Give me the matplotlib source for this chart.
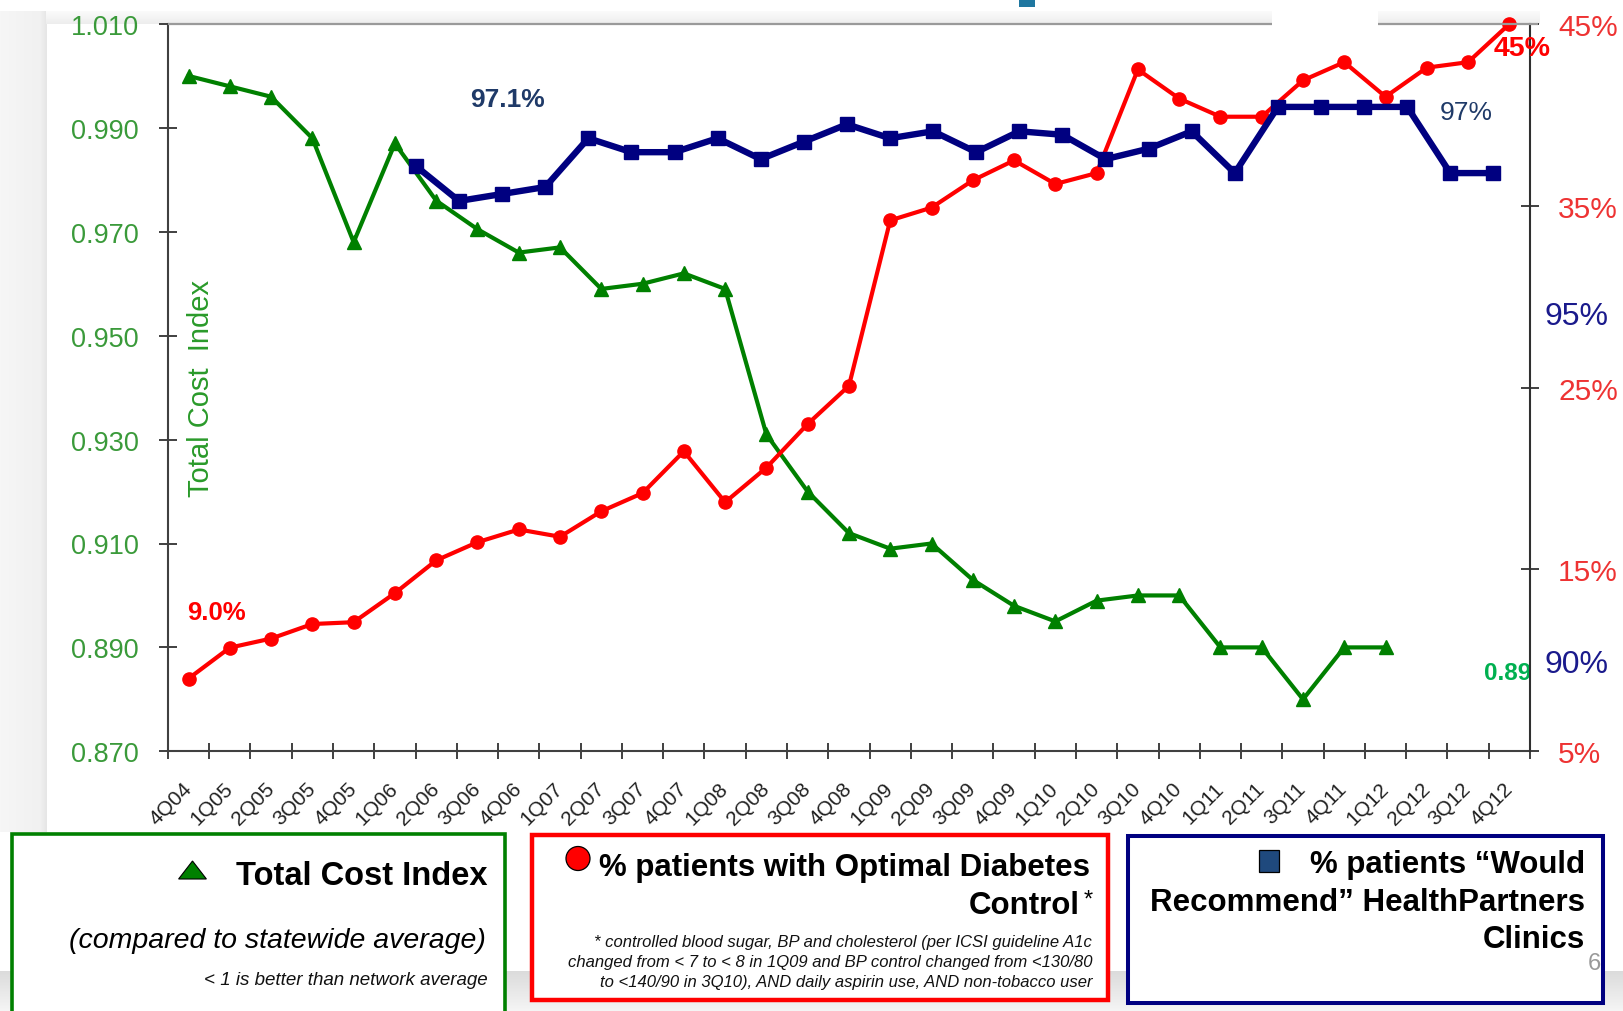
import numpy as np
import matplotlib
matplotlib.use("Agg")
import matplotlib.pyplot as plt
from matplotlib.patches import Rectangle, Circle, Polygon
from matplotlib.ticker import FormatStrFormatter

# ---------------------------------------------------------------- data
quarters = ["4Q04", "1Q05", "2Q05", "3Q05", "4Q05", "1Q06", "2Q06", "3Q06",
            "4Q06", "1Q07", "2Q07", "3Q07", "4Q07", "1Q08", "2Q08", "3Q08",
            "4Q08", "1Q09", "2Q09", "3Q09", "4Q09", "1Q10", "2Q10", "3Q10",
            "4Q10", "1Q11", "2Q11", "3Q11", "4Q11", "1Q12", "2Q12", "3Q12",
            "4Q12"]

# Total Cost Index (compared to statewide average), 4Q04 - 1Q12
cost_index = [1.000, 0.998, 0.996, 0.988, 0.968, 0.987, 0.976, 0.9705, 0.966, 0.967,
              0.959, 0.960, 0.962, 0.959, 0.931, 0.920, 0.912, 0.909, 0.910, 0.903,
              0.898, 0.895, 0.899, 0.900, 0.900, 0.890, 0.890, 0.880, 0.890, 0.890]

# % patients with optimal diabetes control, 4Q04 - 4Q12
diabetes_pct = [9.0, 10.7, 11.2, 12.0, 12.1, 13.7, 15.5, 16.5, 17.2, 16.8,
                18.2, 19.2, 21.5, 18.7, 20.6, 23.0, 25.1, 34.2, 34.9, 36.4,
                37.5, 36.2, 36.8, 42.5, 40.9, 39.9, 39.9, 41.9, 42.9, 41.0,
                42.6, 42.9, 45.0]

# % patients who would recommend the clinics (own quarterly series)
recommend_pct = [97.1, 96.6, 96.7, 96.8, 97.5, 97.3, 97.3, 97.5, 97.2, 97.45,
                 97.7, 97.5, 97.6, 97.3, 97.6, 97.55, 97.2, 97.35, 97.6, 97.0,
                 97.95, 97.95, 97.95, 97.95, 97.0, 97.0]

cost_ticks = [0.870, 0.890, 0.910, 0.930, 0.950, 0.970, 0.990, 1.010]
diabetes_ticks = [5, 15, 25, 35, 45]
recommend_ticks = [90, 95]

# ---------------------------------------------------------------- figure
W, H, DPI = 1623, 1012, 100
plt.rcParams['font.family'] = ['Liberation Sans', 'DejaVu Sans']

fig = plt.figure(figsize=(W / DPI, H / DPI), dpi=DPI)
fig.patch.set_facecolor('white')

# background layer in pixel coordinates
bg = fig.add_axes([0, 0, 1, 1], zorder=-10)
bg.set_xlim(0, W)
bg.set_ylim(H, 0)
bg.axis('off')


def hgrad(x0, x1, y0, y1, v0, v1, ax=bg):
    g = np.linspace(v0, v1, 64)[None, :, None].repeat(3, axis=2)
    ax.imshow(g, extent=(x0, x1, y1, y0), aspect='auto',
              interpolation='bilinear', vmin=0, vmax=1, zorder=0)


def vgrad(x0, x1, y0, y1, v0, v1, ax=bg):
    g = np.linspace(v0, v1, 64)[:, None, None].repeat(3, axis=2)
    ax.imshow(g, extent=(x0, x1, y1, y0), aspect='auto',
              interpolation='bilinear', vmin=0, vmax=1, zorder=0)


hgrad(0, 40, 12, 833, 0.965, 0.945)
hgrad(40, 47, 12, 833, 0.945, 0.90)
vgrad(46, 1272, 12, 25, 0.985, 0.93)
vgrad(1378, 1540, 12, 25, 0.985, 0.93)
vgrad(0, W, 972, H, 0.86, 0.96)
bg.add_patch(Rectangle((1019, 0), 16, 8, facecolor='#1f77a0', edgecolor='none'))
bg.set_xlim(0, W)
bg.set_ylim(H, 0)

# plot area
x0p, x1p, y0p, y1p = 167.9, 1530.0, 25.0, 752.3
rect = [x0p / W, 1 - y1p / H, (x1p - x0p) / W, (y1p - y0p) / H]

GREEN, RED, NAVY = '#008000', '#ff0000', '#000080'
AXC = '#404040'

ax = fig.add_axes(rect)
ax.patch.set_alpha(0)
xi = np.arange(len(quarters))
ax.set_xlim(-0.5, len(quarters) - 0.5)
ax.set_ylim(0.870, 1.010)
ax.plot(np.arange(len(cost_index)), cost_index, color=GREEN, lw=3.0,
        marker='^', ms=10, mfc=GREEN, mec=GREEN, zorder=3, clip_on=False)

ax.set_yticks(cost_ticks)
ax.yaxis.set_major_formatter(FormatStrFormatter('%.3f'))
ax.tick_params(axis='y', direction='inout', length=13, width=1.4, color=AXC,
               labelsize=19.5, labelcolor='#3a9a3a', pad=14.4)

ax.set_xticks(xi)
ax.set_xticklabels(quarters, rotation=45, ha='right', va='center',
                   rotation_mode='anchor', fontsize=15, color='#222222')
ax.set_xticks(np.arange(len(quarters) + 1) - 0.5, minor=True)
ax.tick_params(axis='x', which='major', length=0, pad=24.5)
ax.tick_params(axis='x', which='minor', direction='inout', length=11,
               width=1.4, color=AXC)

for s in ('top', 'right'):
    ax.spines[s].set_visible(False)
for s in ('left', 'bottom'):
    ax.spines[s].set_color(AXC)
    ax.spines[s].set_linewidth(1.5)

ax.annotate('0.89', xy=(len(cost_index) - 1, cost_index[-1]),
            xytext=(122, -32), textcoords='offset pixels', ha='center',
            va='baseline', fontsize=17.5, color='#00b050', fontweight='bold',
            annotation_clip=False)

# diabetes control on the right-hand axis
axr = ax.twinx()
axr.set_ylim(5, 45)
axr.plot(xi[:len(diabetes_pct)], diabetes_pct, color=RED, lw=3.0, marker='o',
         ms=9.5, mfc=RED, mec=RED, zorder=3, clip_on=False)
axr.set_yticks(diabetes_ticks)
axr.set_yticklabels([f'{v}%' for v in diabetes_ticks])
axr.tick_params(axis='y', direction='inout', length=13, width=1.4, color=AXC,
                labelsize=21.5, labelcolor='#ee3333', pad=13.7)
for s in ('top', 'left', 'bottom'):
    axr.spines[s].set_visible(False)
axr.spines['right'].set_color('#303030')
axr.spines['right'].set_linewidth(1.5)

axr.annotate('9.0%', xy=(0, diabetes_pct[0]), xytext=(28, 60),
             textcoords='offset pixels', ha='center', va='baseline',
             fontsize=18.5, color=RED, fontweight='bold', annotation_clip=False)
axr.annotate('45%', xy=(len(diabetes_pct) - 1, diabetes_pct[-1]),
             xytext=(13, -31), textcoords='offset pixels', ha='center',
             va='baseline', fontsize=20.5, color=RED, fontweight='bold',
             annotation_clip=False)

# "would recommend" series on its own overlaid axes
axb = fig.add_axes(rect, frameon=False)
bi = np.arange(len(recommend_pct))
axb.set_xlim(-5.755, 25.85)
axb.set_ylim(88.70, 99.14)
axb.plot(bi, recommend_pct, color=NAVY, lw=4.6, marker='s', ms=10,
         mfc=NAVY, mec=NAVY, zorder=4, clip_on=False)
axb.xaxis.set_visible(False)
axb.yaxis.tick_right()
axb.set_yticks(recommend_ticks)
axb.set_yticklabels([f'{v}%' for v in recommend_ticks])
axb.tick_params(axis='y', length=0, pad=10.8, labelsize=23,
                labelcolor='#1a1a8c')

axb.annotate('97.1%', xy=(0, recommend_pct[0]), xytext=(92, 60),
             textcoords='offset pixels', ha='center', va='baseline',
             fontsize=19, color='#1f3a68', fontweight='bold',
             annotation_clip=False)
axb.annotate('97%', xy=(len(recommend_pct) - 1, recommend_pct[-1]),
             xytext=(-27, 54), textcoords='offset pixels', ha='center',
             va='baseline', fontsize=19, color='#1f3a68',
             annotation_clip=False)

# ---------------------------------------------------------------- overlay
ov = fig.add_axes([0, 0, 1, 1], zorder=10)
ov.set_xlim(0, W)
ov.set_ylim(H, 0)
ov.axis('off')
ov.patch.set_alpha(0)

# top frame line with a gap
ov.plot([168, 1272], [25, 25], color='#9a9a9a', lw=1.6, solid_capstyle='butt')
ov.plot([1378, 1538], [25, 25], color='#9a9a9a', lw=1.6, solid_capstyle='butt')

fig.text(201 / W, 1 - 388 / H, 'Total Cost  Index', rotation=90, ha='center',
         va='center', fontsize=21, color='#2a9a2a')

# legend boxes
ov.add_patch(Rectangle((12, 835), 493, 200, facecolor='white',
                       edgecolor=GREEN, lw=2.6))
ov.add_patch(Rectangle((532, 836), 576, 165, facecolor='white',
                       edgecolor=RED, lw=3.2))
ov.add_patch(Rectangle((1127.5, 836.5), 475, 167.5, facecolor='white',
                       edgecolor=NAVY, lw=2.9))

ov.add_patch(Polygon([(178.6, 880), (206.4, 880), (192.5, 862)], closed=True,
                     facecolor=GREEN, edgecolor='black', lw=0.8))
ov.add_patch(Circle((578, 859.5), 12, facecolor=RED, edgecolor='black', lw=0.9))
ov.add_patch(Rectangle((1259, 851), 20, 22, facecolor='#1f497d',
                       edgecolor='black', lw=0.9))

ov.text(487.5, 885, 'Total Cost Index', ha='right', va='baseline',
        fontsize=23.5, fontweight='bold', color='black')
ov.text(486, 948, '(compared to statewide average)', ha='right',
        va='baseline', fontsize=20.5, style='italic', color='black')
ov.text(487.5, 985, '< 1 is better than network average', ha='right',
        va='baseline', fontsize=13.5, style='italic', color='#111111')

ov.text(1090, 876, '% patients with Optimal Diabetes', ha='right',
        va='baseline', fontsize=22.5, fontweight='bold', color='black')
ov.text(1080, 914, 'Control', ha='right', va='baseline', fontsize=22.5,
        fontweight='bold', color='black')
ov.text(1084, 907, '*', ha='left', va='baseline', fontsize=17, color='black')
foot = ['* controlled blood sugar, BP and cholesterol (per ICSI guideline A1c',
        'changed from < 7 to < 8 in 1Q09 and BP control changed from <130/80',
        'to <140/90 in 3Q10), AND daily aspirin use, AND non-tobacco user']
for line, yb in zip(foot, (946.7, 967.3, 986.7)):
    ov.text(1092, yb, line, ha='right', va='baseline', fontsize=12,
            style='italic', color='#111111')

for line, yb in zip(['% patients \u201cWould', 'Recommend\u201d HealthPartners',
                     'Clinics'], (873.3, 910.7, 948.3)):
    ov.text(1585, yb, line, ha='right', va='baseline', fontsize=22.5,
            fontweight='bold', color='black')
ov.text(1594, 970, '6', ha='center', va='baseline', fontsize=17,
        color='#999999')

fig.savefig('out.png', dpi=DPI, facecolor='white')
